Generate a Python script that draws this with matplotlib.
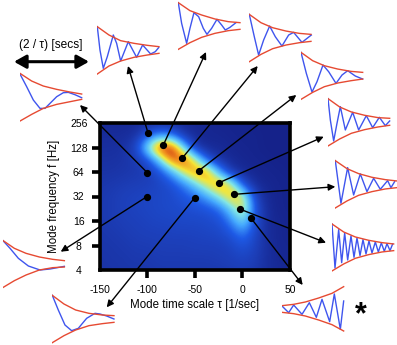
import matplotlib
matplotlib.use('Agg')
import matplotlib.pyplot as plt
import numpy as np
from matplotlib.colors import LinearSegmentedColormap

W, H = 397, 345
RED = '#e64a32'
BLUE = '#3f55ee'

plt.rcParams['font.family'] = ['Liberation Sans', 'DejaVu Sans']

# mode density, rows from f=256 down to f=4 (half octaves), cols tau -150..50
density = [
    [.05, .05, .05, .05, .06, .07, .06, .05, .04, .04, .03, .03, .03, .02, .02, .02, .02],
    [.06, .06, .06, .08, .22, .36, .30, .10, .05, .04, .04, .03, .03, .03, .02, .02, .02],
    [.07, .07, .08, .16, .58, .98, 1.0, .52, .10, .05, .05, .04, .03, .03, .02, .02, .02],
    [.08, .08, .09, .11, .20, .50, .90, .93, .66, .22, .08, .05, .04, .03, .03, .02, .02],
    [.09, .09, .10, .11, .12, .20, .40, .68, .84, .84, .40, .10, .05, .04, .03, .03, .02],
    [.10, .11, .12, .13, .14, .16, .20, .32, .50, .70, .84, .68, .20, .06, .04, .03, .03],
    [.11, .12, .14, .15, .16, .17, .18, .22, .28, .40, .58, .78, .68, .15, .05, .03, .03],
    [.11, .12, .14, .15, .16, .17, .18, .19, .20, .22, .28, .50, .72, .22, .06, .03, .03],
    [.11, .12, .13, .14, .15, .16, .16, .17, .17, .18, .20, .33, .55, .20, .06, .04, .03],
    [.10, .11, .12, .13, .14, .14, .15, .15, .15, .16, .17, .22, .33, .17, .06, .04, .03],
    [.10, .10, .11, .12, .12, .13, .13, .13, .14, .14, .14, .16, .22, .15, .07, .04, .04],
    [.09, .10, .10, .11, .11, .12, .12, .12, .12, .12, .13, .14, .16, .13, .07, .04, .04],
    [.09, .09, .10, .10, .10, .11, .11, .11, .11, .11, .11, .12, .13, .11, .07, .05, .04],
]

xtick_vals = [-150, -100, -50, 0, 50]
ytick_vals = [256, 128, 64, 32, 16, 8, 4]

# fitted modes (tau, f) marked on the map
mode_tau = [-99, -83, -63, -46, -25, -9, -3, 9, -100, -100, -50]
mode_f = [192, 137, 95, 66, 47, 34, 22.5, 17.4, 63, 32, 31]

# one damped waveform per inset: time, signal, envelopes
env_t = [0, 35, 70, 110, 150, 185]

wave_t = [
    [0, 8, 18, 30, 48, 58, 70, 93, 118, 136, 160, 174, 184],
    [0, 10, 25, 35, 47, 61, 75, 86, 100, 116, 130, 141, 155, 173],
    [0, 15, 28, 43, 61, 78, 98, 118, 133, 158, 186],
    [0, 16, 33, 48, 66, 83, 105, 123, 140, 163, 185],
    [0, 7, 17, 27, 37, 52, 74, 92, 115, 134, 154, 172, 185],
    [0, 17, 37, 55, 75, 95, 115, 135, 157, 167, 178],
    [0, 9, 20, 29, 38, 47, 57, 66, 75, 84, 93, 102, 111, 120, 130, 139, 148, 157, 165, 174, 182],
    [0, 20, 35, 60, 82, 103, 120, 143, 157, 175, 185],
    [0, 20, 40, 60, 75, 90, 110, 130, 145, 165, 185],
    [0, 22, 47, 77, 112, 142, 185],
    [0, 18, 38, 58, 78, 103, 128, 143, 163, 185],
]
wave_y = [
    [70, 0, -55, -20, 45, 20, -33, 25, -22, 15, -12, -5, 7],
    [70, 8, -52, -7, 40, 28, -7, -25, -7, 20, 3, -12, -4, 10],
    [70, 3, -52, -7, 35, 3, -25, 8, 16, -14, 8],
    [70, 7, -49, -18, 32, 12, -23, 2, 15, -1, -10],
    [71, 7, -56, -3, 47, -23, 30, -23, 20, -16, 15, -10, 4],
    [71, -57, 50, -32, 31, -22, 18, -15, 11, -10, 8],
    [70, -62, 53, -46, 43, -38, 34, -30, 28, -25, 23, -20, 19, -17, 16, -14, 13, -12, 11, -10, 10],
    [9, -11, 12, -16, 19, -25, 29, -38, 45, -61, 24],
    [68, 30, -10, -35, -35, -20, 0, 12, 13, 6, -3],
    [71, 47, 17, -6, -18, -15, -7],
    [71, 27, -18, -35, -28, 2, 17, 15, 9, 0],
]
env_top = [
    [70, 45, 28, 20, 14, 10],
    [70, 46, 33, 21, 13, 10],
    [70, 45, 30, 20, 13, 10],
    [70, 45, 30, 20, 13, 10],
    [71, 46, 31, 21, 14, 12],
    [71, 47, 32, 21, 14, 10],
    [70, 46, 31, 21, 14, 10],
    [10, 14, 21, 33, 47, 67],
    [70, 47, 32, 22, 14, 8],
    [71, 47, 32, 21, 14, 10],
    [71, 45, 27, 17, 12, 10],
]
env_bot = [
    [-72, -48, -33, -22, -15, -10],
    [-70, -50, -34, -22, -14, -10],
    [-72, -50, -33, -22, -15, -11],
    [-71, -50, -33, -22, -15, -10],
    [-71, -50, -33, -22, -14, -9],
    [-71, -50, -33, -22, -14, -10],
    [-71, -50, -33, -22, -14, -10],
    [-10, -14, -21, -33, -47, -66],
    [-73, -53, -35, -23, -15, -8],
    [-71, -50, -33, -18, -11, -9],
    [-71, -50, -33, -20, -14, -10],
]

# where each little waveform sits and where its arrow ends, pixels from top left
box_left = [97.3, 178.3, 249.3, 301, 328, 335.3, 332, 282, 20, 2.7, 52.3]
box_cy = [50, 26, 37.7, 75.7, 122.3, 184.3, 247.3, 309, 96.7, 264, 319]
tip_x = [128, 206, 257.7, 296.3, 323.7, 335.3, 326, 302.7, 80, 60.7, 106.7]
tip_y = [66, 52, 66, 95, 136.7, 186.7, 242.7, 285, 105, 251.7, 307.3]

cmap = LinearSegmentedColormap.from_list('modes', [
    (0.0, '#141e82'), (0.12, '#1c3cb4'), (0.25, '#1e5ae6'), (0.4, '#46aaff'),
    (0.55, '#82e6e6'), (0.7, '#f5e637'), (0.82, '#f08c1e'), (0.92, '#c83214'), (1.0, '#96240a')])

fig = plt.figure(figsize=(W / 100, H / 100), dpi=100)
ax = fig.add_axes([99.5 / W, 1 - 270 / H, 190.5 / W, 147 / H])

ax.imshow(density, cmap=cmap, vmin=0, vmax=1, interpolation='bicubic', aspect='auto',
          extent=(-156.25, 56.25, 1.75, 8.25), origin='upper')
ax.set_xlim(-150, 50)
ax.set_ylim(2, 8)

for s in ax.spines.values():
    s.set_linewidth(2.6)

ax.set_xticks(xtick_vals)
ax.set_xticklabels([str(v) for v in xtick_vals], fontsize=7.5)
ax.set_yticks(np.log2(ytick_vals))
ax.set_yticklabels([str(v) for v in ytick_vals], fontsize=7.5)
ax.tick_params(axis='x', length=6, width=2.6, pad=4.5)
ax.tick_params(axis='y', length=6, width=2.6, pad=9)
for lab in ax.get_yticklabels():
    lab.set_ha('center')
# the end ticks are hidden in the original
for t in [ax.xaxis.get_major_ticks()[0], ax.xaxis.get_major_ticks()[-1],
          ax.yaxis.get_major_ticks()[0], ax.yaxis.get_major_ticks()[-1]]:
    t.tick1line.set_visible(False)

ax.set_xlabel('Mode time scale τ [1/sec]', fontsize=8.3, labelpad=3)
ax.set_ylabel('Mode frequency f [Hz]', fontsize=8.3, labelpad=7)

ax.plot(mode_tau, np.log2(mode_f), 'o', color='black', ms=4.2, zorder=5)

# arrows from each mode to its waveform
for i in range(len(mode_tau)):
    ax.annotate('', xy=(tip_x[i], H - tip_y[i]), xycoords='figure pixels',
                xytext=(mode_tau[i], np.log2(mode_f[i])), textcoords='data',
                arrowprops=dict(arrowstyle='-|>', color='black', lw=1.0, shrinkA=0, shrinkB=0,
                                mutation_scale=10), annotation_clip=False)

# the little waveforms
for k in range(len(wave_t)):
    left = box_left[k]
    cy = box_cy[k]
    sub = fig.add_axes([left / W, 1 - (cy + 80 / 3) / H, (200 / 3) / W, (160 / 3) / H])
    sub.set_xlim(0, 200)
    sub.set_ylim(-80, 80)
    sub.axis('off')
    sub.plot(wave_t[k], wave_y[k], color=BLUE, lw=1.0, solid_joinstyle='round')
    sub.plot(env_t, env_top[k], color=RED, lw=1.0, solid_joinstyle='round')
    sub.plot(env_t, env_bot[k], color=RED, lw=1.0, solid_joinstyle='round')

fig.text(50.7 / W, 1 - 45 / H, '(2 / τ) [secs]', fontsize=8.6, ha='center', va='center')
ax.annotate('', xy=(14, H - 61.7), xycoords='figure pixels', xytext=(89, H - 61.7),
            textcoords='figure pixels',
            arrowprops=dict(arrowstyle='<|-|>,head_length=0.5,head_width=0.28', color='black',
                            lw=2.2, shrinkA=0, shrinkB=0, mutation_scale=14.4),
            annotation_clip=False)
fig.text(361 / W, 1 - 315 / H, '*', fontsize=22, fontweight='bold', ha='center', va='center')

fig.savefig('out.png', dpi=100)
